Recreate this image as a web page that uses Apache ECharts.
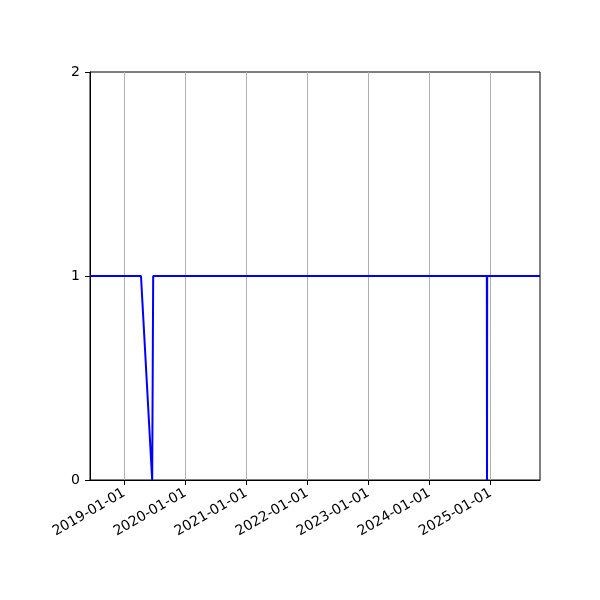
<!DOCTYPE html>
<html>
<head>
<meta charset="utf-8">
<script src="https://cdn.jsdelivr.net/npm/echarts@6/dist/echarts.min.js"></script>
<style>html,body{margin:0;padding:0;background:#fff;}#c{width:600px;height:600px;}</style>
</head>
<body>
<div id="c"></div>
<script>
const dates = ['2018-06-10','2019-04-11','2019-06-17','2019-06-23','2024-12-09','2024-12-10','2024-12-11','2025-10-23'];
const values = [1, 1, 0, 1, 1, 0, 1, 1];
const xTicks = ['2019-01-01','2020-01-01','2021-01-01','2022-01-01','2023-01-01','2024-01-01','2025-01-01'];
const yTicks = [0, 1, 2];
const xMin = '2018-06-10';
const xMax = '2025-10-23';

const ts = s => new Date(s + 'T00:00:00Z').getTime();
const tickTs = xTicks.map(ts);
const pad = n => (n < 10 ? '0' : '') + n;
const fmt = v => { const d = new Date(v); return d.getUTCFullYear() + '-' + pad(d.getUTCMonth() + 1) + '-' + pad(d.getUTCDate()); };

const chart = echarts.init(document.getElementById('c'));
chart.setOption({
  animation: false,
  backgroundColor: '#fff',
  grid: { left: 90, right: 60, top: 72, bottom: 120, show: true, borderColor: '#000', borderWidth: 1, backgroundColor: 'transparent' },
  xAxis: {
    type: 'value',
    min: ts(xMin), max: ts(xMax),
    axisLine: { show: true, lineStyle: { color: '#000', width: 1 } },
    axisTick: { show: true, inside: false, length: 5, lineStyle: { color: '#000', width: 1 }, customValues: tickTs },
    axisLabel: { show: true, customValues: tickTs, rotate: 30, margin: 12, color: '#000', fontFamily: 'DejaVu Sans', fontSize: 14, formatter: v => fmt(v) },
    splitLine: { show: false }
  },
  yAxis: {
    type: 'value', min: yTicks[0], max: yTicks[yTicks.length - 1], interval: 1,
    axisLine: { show: true, lineStyle: { color: '#000', width: 1 } },
    axisTick: { show: true, inside: false, length: 5, lineStyle: { color: '#000', width: 1 } },
    axisLabel: { margin: 10, color: '#000', fontFamily: 'DejaVu Sans', fontSize: 14 },
    splitLine: { show: false }
  },
  series: [{
    type: 'line',
    data: dates.map((d, i) => [ts(d), values[i]]),
    showSymbol: false,
    symbol: 'none',
    lineStyle: { color: '#0000ff', width: 2 },
    clip: true,
    z: 3,
    markLine: {
      silent: true, symbol: 'none', animation: false,
      label: { show: false },
      lineStyle: { color: '#b0b0b0', width: 1, type: 'solid' },
      data: tickTs.map(t => ({ xAxis: t })),
      z: 1
    }
  }]
});
</script>
</body>
</html>
